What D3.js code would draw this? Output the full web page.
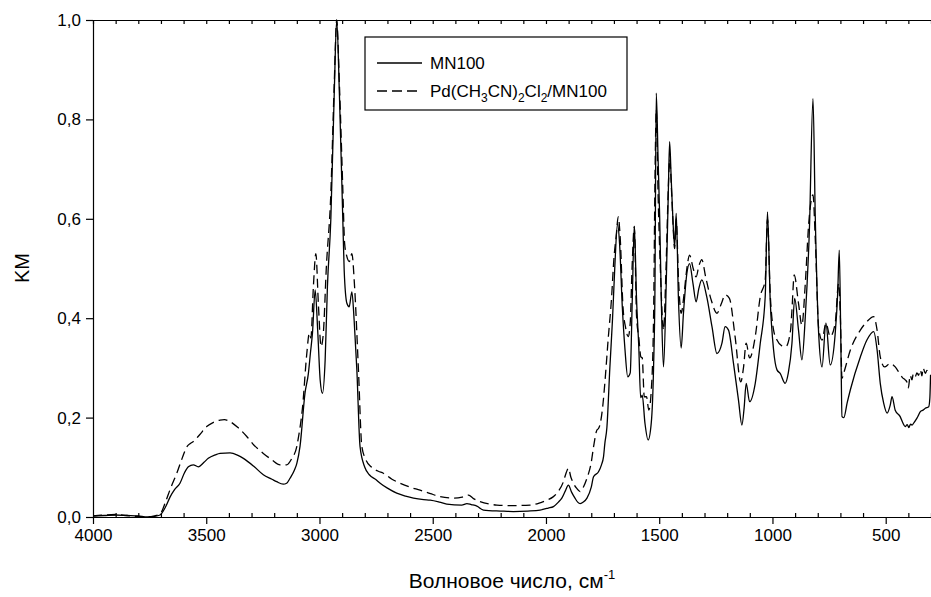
<!DOCTYPE html>
<html>
<head>
<meta charset="utf-8">
<script src="https://cdn.jsdelivr.net/npm/d3@7"></script>
<style>
  body { margin: 0; background: #fff; }
  svg { display: block; font-family: "Liberation Sans", Arial, sans-serif; }
</style>
</head>
<body>
<svg id="chart" width="931" height="597"></svg>
<script>
// MN100 (solid) - wavenumber, cm-1 / KM value
const mnWave = [4000, 3950, 3900, 3850, 3800, 3760, 3730, 3704, 3680, 3660, 3640, 3616, 3595, 3579, 3557, 3535, 3510, 3491, 3460, 3439, 3395, 3360, 3336, 3290, 3248, 3210, 3189, 3160, 3145, 3130, 3110, 3100, 3086, 3064, 3049, 3040, 3031, 3019, 3008, 2997, 2987, 2975, 2965, 2950, 2935, 2924, 2912, 2897, 2891, 2879, 2869, 2857, 2847, 2835, 2821, 2800, 2780, 2750, 2732, 2700, 2659, 2620, 2585, 2540, 2511, 2470, 2438, 2372, 2349, 2330, 2305, 2276, 2200, 2144, 2080, 2026, 1990, 1967, 1945, 1930, 1915, 1901, 1887, 1872, 1860, 1849, 1835, 1819, 1800, 1790, 1768, 1755, 1746, 1740, 1731, 1718, 1706, 1696, 1684, 1675, 1663, 1651, 1639, 1628, 1619, 1610, 1600, 1590, 1582, 1575, 1563, 1549, 1535, 1525, 1519, 1513, 1505, 1498, 1490, 1481, 1469, 1460, 1454, 1447, 1440, 1432, 1425, 1415, 1403, 1393, 1378, 1366, 1351, 1337, 1325, 1312, 1290, 1267, 1245, 1223, 1209, 1194, 1172, 1150, 1135, 1125, 1116, 1101, 1076, 1054, 1032, 1022, 1010, 995, 980, 966, 944, 930, 914, 902, 885, 870, 855, 837, 821, 811, 796, 781, 764, 745, 723, 712, 705, 698, 693, 685, 670, 656, 612, 583, 553, 538, 524, 509, 494, 480, 472, 458, 436, 425, 414, 405, 398, 390, 384, 375, 362, 355, 347, 335, 325, 310, 305, 302];
const mnKM = [0.002, 0.003, 0.004, 0.003, 0.002, 0.000, 0.001, 0.004, 0.020, 0.040, 0.055, 0.068, 0.090, 0.101, 0.105, 0.101, 0.110, 0.118, 0.125, 0.128, 0.129, 0.124, 0.118, 0.102, 0.085, 0.076, 0.071, 0.066, 0.068, 0.078, 0.095, 0.108, 0.142, 0.249, 0.289, 0.330, 0.370, 0.457, 0.376, 0.276, 0.249, 0.316, 0.463, 0.598, 0.850, 1.000, 0.850, 0.598, 0.497, 0.430, 0.423, 0.453, 0.396, 0.296, 0.142, 0.100, 0.085, 0.075, 0.068, 0.058, 0.048, 0.042, 0.038, 0.035, 0.034, 0.030, 0.026, 0.024, 0.027, 0.025, 0.022, 0.014, 0.012, 0.011, 0.012, 0.014, 0.018, 0.021, 0.030, 0.038, 0.052, 0.064, 0.050, 0.038, 0.030, 0.027, 0.030, 0.038, 0.060, 0.081, 0.091, 0.105, 0.121, 0.148, 0.180, 0.300, 0.400, 0.504, 0.590, 0.550, 0.423, 0.336, 0.282, 0.290, 0.437, 0.585, 0.437, 0.340, 0.240, 0.245, 0.189, 0.155, 0.190, 0.300, 0.450, 0.853, 0.720, 0.604, 0.420, 0.302, 0.470, 0.650, 0.755, 0.680, 0.604, 0.544, 0.611, 0.437, 0.340, 0.410, 0.490, 0.510, 0.470, 0.433, 0.460, 0.477, 0.443, 0.383, 0.329, 0.350, 0.383, 0.376, 0.309, 0.235, 0.185, 0.220, 0.269, 0.232, 0.269, 0.349, 0.443, 0.614, 0.437, 0.336, 0.296, 0.289, 0.269, 0.290, 0.349, 0.440, 0.376, 0.316, 0.403, 0.577, 0.842, 0.604, 0.369, 0.302, 0.390, 0.306, 0.369, 0.450, 0.537, 0.350, 0.202, 0.200, 0.230, 0.256, 0.322, 0.356, 0.373, 0.336, 0.269, 0.229, 0.209, 0.225, 0.242, 0.215, 0.202, 0.190, 0.182, 0.186, 0.180, 0.187, 0.185, 0.190, 0.199, 0.205, 0.212, 0.215, 0.219, 0.222, 0.240, 0.286];

// Pd(CH3CN)2Cl2/MN100 (dashed)
const pdWave = [4000, 3950, 3900, 3850, 3800, 3760, 3730, 3704, 3680, 3660, 3630, 3605, 3586, 3570, 3557, 3530, 3498, 3470, 3439, 3420, 3395, 3360, 3321, 3290, 3248, 3210, 3174, 3145, 3122, 3100, 3093, 3075, 3056, 3045, 3038, 3027, 3016, 3005, 2993, 2983, 2970, 2950, 2935, 2924, 2912, 2897, 2889, 2879, 2868, 2857, 2845, 2828, 2813, 2795, 2770, 2740, 2718, 2680, 2644, 2600, 2556, 2510, 2467, 2408, 2370, 2342, 2320, 2291, 2250, 2217, 2150, 2070, 2030, 1996, 1970, 1952, 1923, 1910, 1901, 1890, 1879, 1865, 1849, 1835, 1819, 1800, 1790, 1775, 1768, 1762, 1750, 1740, 1725, 1711, 1700, 1690, 1681, 1672, 1660, 1648, 1637, 1628, 1620, 1610, 1600, 1590, 1581, 1575, 1566, 1556, 1546, 1535, 1525, 1518, 1513, 1505, 1495, 1481, 1470, 1460, 1454, 1445, 1440, 1432, 1425, 1415, 1403, 1390, 1378, 1366, 1350, 1337, 1325, 1312, 1295, 1270, 1245, 1225, 1209, 1190, 1165, 1140, 1128, 1116, 1101, 1076, 1054, 1032, 1022, 1010, 995, 980, 960, 941, 920, 914, 904, 885, 870, 855, 840, 821, 811, 796, 781, 764, 745, 723, 708, 700, 693, 685, 656, 612, 583, 553, 538, 524, 505, 480, 458, 440, 425, 414, 405, 400, 392, 384, 378, 370, 362, 355, 347, 340, 335, 325, 318, 310, 302];
const pdKM = [0.002, 0.004, 0.005, 0.003, 0.001, 0.000, 0.002, 0.006, 0.030, 0.055, 0.088, 0.120, 0.141, 0.148, 0.152, 0.165, 0.182, 0.190, 0.195, 0.196, 0.192, 0.180, 0.162, 0.145, 0.128, 0.115, 0.105, 0.105, 0.118, 0.142, 0.160, 0.220, 0.329, 0.370, 0.360, 0.463, 0.530, 0.430, 0.343, 0.370, 0.500, 0.650, 0.870, 1.000, 0.870, 0.660, 0.550, 0.524, 0.514, 0.530, 0.463, 0.296, 0.142, 0.115, 0.100, 0.092, 0.088, 0.076, 0.068, 0.060, 0.054, 0.047, 0.041, 0.038, 0.040, 0.044, 0.037, 0.031, 0.026, 0.024, 0.023, 0.024, 0.028, 0.034, 0.040, 0.048, 0.071, 0.090, 0.098, 0.080, 0.068, 0.058, 0.051, 0.060, 0.078, 0.110, 0.141, 0.175, 0.178, 0.185, 0.220, 0.270, 0.360, 0.437, 0.520, 0.565, 0.604, 0.560, 0.423, 0.380, 0.363, 0.390, 0.500, 0.584, 0.403, 0.360, 0.322, 0.320, 0.242, 0.242, 0.215, 0.255, 0.400, 0.705, 0.820, 0.650, 0.500, 0.376, 0.500, 0.660, 0.720, 0.650, 0.600, 0.540, 0.600, 0.480, 0.410, 0.450, 0.500, 0.527, 0.500, 0.483, 0.505, 0.518, 0.483, 0.436, 0.410, 0.430, 0.447, 0.440, 0.363, 0.272, 0.300, 0.350, 0.320, 0.363, 0.443, 0.477, 0.600, 0.450, 0.376, 0.356, 0.345, 0.343, 0.376, 0.416, 0.487, 0.430, 0.386, 0.470, 0.590, 0.648, 0.560, 0.380, 0.356, 0.390, 0.363, 0.390, 0.470, 0.400, 0.279, 0.290, 0.336, 0.376, 0.393, 0.403, 0.376, 0.322, 0.302, 0.309, 0.302, 0.290, 0.280, 0.276, 0.270, 0.260, 0.285, 0.276, 0.288, 0.282, 0.290, 0.285, 0.296, 0.284, 0.300, 0.289, 0.295, 0.290, 0.290];

const xMajor = [4000, 3500, 3000, 2500, 2000, 1500, 1000, 500];
const yMajor = [0, 0.2, 0.4, 0.6, 0.8, 1.0];

const seriesNames = ["MN100", "Pd(CH3CN)2Cl2/MN100"];

const W = 931, H = 597;
const margin = { left: 93, right: 0, top: 20, bottom: 80 };

const svg = d3.select("#chart");

const x = d3.scaleLinear().domain([4000, 300]).range([margin.left, W - margin.right]);
const y = d3.scaleLinear().domain([0, 1]).range([H - margin.bottom, margin.top]);

const commaFmt = d => d3.format(".1f")(d).replace(".", ",");

// minor ticks every 100 cm-1
const xMinor = d3.range(4000, 299, -100).filter(v => v % 500 !== 0);
const xAll = d3.range(4000, 299, -100);

// bottom axis: long major ticks outside, short minor ticks inside
const gx = svg.append("g")
    .attr("transform", `translate(0,${y(0)})`)
    .call(d3.axisBottom(x).tickValues(xMajor).tickSize(7).tickSizeOuter(0).tickPadding(5).tickFormat(d3.format("d")));
gx.append("g").call(d3.axisBottom(x).tickValues(xMinor).tickSize(-4).tickSizeOuter(0).tickFormat(""));

// top axis with inward ticks
svg.append("g")
    .attr("transform", `translate(0,${y(1)})`)
    .call(d3.axisTop(x).tickValues(xAll).tickSize(-4).tickSizeOuter(0).tickFormat(""));

svg.append("g")
    .attr("transform", `translate(${x(4000)},0)`)
    .call(d3.axisLeft(y).tickValues(yMajor).tickSize(7).tickSizeOuter(0).tickPadding(5).tickFormat(commaFmt));

svg.selectAll(".domain, .tick line").attr("stroke", "#000").attr("stroke-width", 1.2);
svg.selectAll(".tick text").attr("font-size", 17).attr("fill", "#000")
    .attr("font-family", "'Liberation Sans', Arial, sans-serif");

// axis titles
const xt = svg.append("text")
    .attr("x", 512).attr("y", 588)
    .attr("text-anchor", "middle")
    .attr("font-size", 21);
xt.append("tspan").text("Волновое число, см");
xt.append("tspan").attr("dy", -9).attr("font-size", 13).text("-1");

svg.append("text")
    .attr("transform", `translate(29,268) rotate(-90)`)
    .attr("text-anchor", "middle")
    .attr("font-size", 20)
    .text("KM");

// spectra
const line = d3.line()
    .x(d => x(d[0]))
    .y(d => y(d[1]))
    .curve(d3.curveMonotoneX);

const mnData = mnWave.map((w, i) => [w, mnKM[i]]);
const pdData = pdWave.map((w, i) => [w, pdKM[i]]);

svg.append("path")
    .datum(pdData)
    .attr("fill", "none")
    .attr("stroke", "#000")
    .attr("stroke-width", 1.3)
    .attr("stroke-dasharray", "9,5")
    .attr("d", line);

svg.append("path")
    .datum(mnData)
    .attr("fill", "none")
    .attr("stroke", "#000")
    .attr("stroke-width", 1.3)
    .attr("d", line);

// legend
const lg = svg.append("g");
lg.append("rect")
    .attr("x", 365).attr("y", 37).attr("width", 262).attr("height", 73)
    .attr("fill", "#fff").attr("stroke", "#000").attr("stroke-width", 1.2);

lg.append("line").attr("x1", 377).attr("x2", 422).attr("y1", 63).attr("y2", 63)
    .attr("stroke", "#000").attr("stroke-width", 1.3);
lg.append("text").attr("x", 430).attr("y", 69).attr("font-size", 17).text(seriesNames[0]);

lg.append("line").attr("x1", 377).attr("x2", 422).attr("y1", 91).attr("y2", 91)
    .attr("stroke", "#000").attr("stroke-width", 1.3).attr("stroke-dasharray", "10,5");

// Pd(CH3CN)2Cl2/MN100 with subscripts
const t2 = lg.append("text").attr("x", 430).attr("y", 97).attr("font-size", 17);
const parts = [["Pd(CH", 0], ["3", 1], ["CN)", 0], ["2", 1], ["Cl", 0], ["2", 1], ["/MN100", 0]];
let prevSub = 0;
parts.forEach(p => {
    const shift = (p[1] - prevSub) * 5;
    t2.append("tspan")
        .attr("dy", shift)
        .attr("font-size", p[1] ? 12 : 17)
        .text(p[0]);
    prevSub = p[1];
});
</script>
</body>
</html>
